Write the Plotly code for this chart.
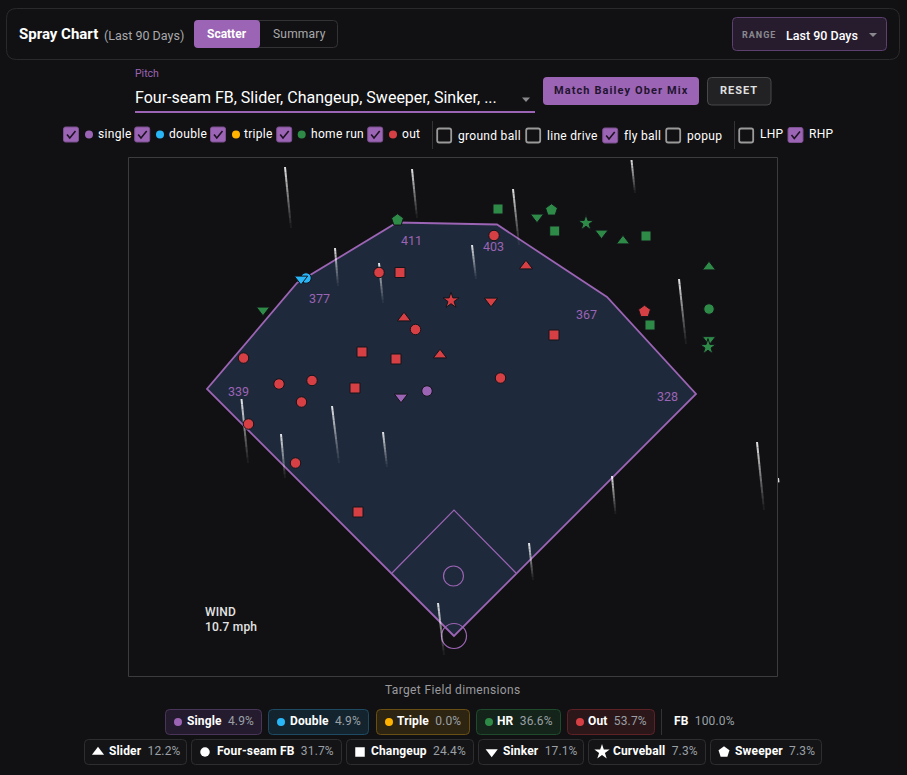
import plotly.graph_objects as go

# ---------- chart data (feet from home plate) ----------
OUT_X = [-75, -54, 40, 72, -3, 37, -50, -38.5, -92, -58, -14, -210.5, -175, -142, -99, -152.5, 46.5, 100, 190.5, -205.5, -158.5, -96]
OUT_Y = [363.5, 363.5, 400.5, 370, 335.5, 335, 318, 306.5, 284, 277, 281, 278, 252, 255.5, 248, 234, 258, 301, 324.5, 212, 173, 124]
OUT_P = ["FF", "CH", "FF", "SL", "CU", "SI", "SL", "FF", "CH", "CH", "SL", "FF", "FF", "FF", "CH", "FF", "FF", "CH", "SW", "FF", "FF", "CH"]
HR_X = [-56.5, -191, 44, 83, 97.5, 100.7, 132, 147.5, 169, 192, 255, 255, 255, 254, 196]
HR_Y = [416, 326, 427, 419, 426, 405, 413, 403, 395, 400, 369, 327, 296.5, 289, 311]
HR_P = ["SW", "SI", "CH", "SI", "SW", "CH", "CU", "SI", "SL", "CH", "SL", "FF", "SI", "CU", "CH"]
SINGLE_X = [-53, -27]
SINGLE_Y = [239, 245]
SINGLE_P = ["SI", "FF"]
DOUBLE_X = [-148, -153]
DOUBLE_Y = [358, 357]
DOUBLE_P = ["FF", "SI"]

WALL_X = [0, -247, -157, -57, 43, 153, 242, 0]
WALL_Y = [0, 247, 353, 413.5, 411.5, 339, 242, 0]
INFIELD_X = [-62, 0, 62]
INFIELD_Y = [63, 126, 63]
DIST_LABELS = ["339", "377", "411", "403", "367", "328"]
DIST_X = [-216, -135, -43, 39.5, 132, 213.5]
DIST_Y = [244.5, 338, 396, 390, 322, 239.5]

STREAK_X0 = [-169, -42, -119, -75, 18, 59, 177.5, 225, 303, 324, 158, 75, -16, -122, -71, -173, -212.5]
STREAK_Y0 = [469, 467, 388, 373, 391, 447, 476, 357, 194, 158, 160, 93, 33, 230, 204, 202, 237]
STREAK_X1 = [-163, -37, -116, -71, 22, 65, 181, 232, 310, 330, 161.5, 79, -10, -115, -67, -169, -206]
STREAK_Y1 = [408, 418, 350, 333, 357, 391, 443, 292, 126, 106, 122, 56, -19, 173, 169, 158, 173]

OUTCOME_NAMES = ["Single", "Double", "Triple", "HR", "Out"]
OUTCOME_PCT = ["4.9%", "4.9%", "0.0%", "36.6%", "53.7%"]
PITCH_NAMES = ["Slider", "Four-seam FB", "Changeup", "Sinker", "Curveball", "Sweeper"]
PITCH_PCT = ["12.2%", "31.7%", "24.4%", "17.1%", "7.3%", "7.3%"]
FB_PCT = "100.0%"
WIND_MPH = "10.7 mph"

# ---------- styling ----------
BG = "#111113"
PURPLE = "#9c64b4"
BLUE = "#29b6f6"
AMBER = "#ffb300"
GREEN = "#2e8b47"
RED = "#d64045"
FIELD = "#1e293b"
FONT = "Roboto"
SYMBOL = {"FF": "circle", "SL": "triangle-up", "CH": "square", "SI": "triangle-down", "CU": "star", "SW": "pentagon"}
SIZE = {"FF": 10.5, "SL": 11.5, "CH": 10, "SI": 11.5, "CU": 12, "SW": 12.5}
W, H = 907, 775
HOME_PX, HOME_PY = 454, 636   # where home plate sits on the page

shapes, annos = [], []


def X(px):
    return px - HOME_PX


def Y(py):
    return HOME_PY - py


def px_path(pts, close=True):
    return "M" + " L".join(f"{X(x)},{Y(y)}" for x, y in pts) + (" Z" if close else "")


def rrect(x0, y0, x1, y1, r=4, fill=None, line=None, lw=1):
    a, b, c, d = X(x0), X(x1), Y(y0), Y(y1)
    p = (f"M{a+r},{c} L{b-r},{c} Q{b},{c} {b},{c-r} L{b},{d+r} Q{b},{d} {b-r},{d} "
         f"L{a+r},{d} Q{a},{d} {a},{d+r} L{a},{c-r} Q{a},{c} {a+r},{c} Z")
    shapes.append(dict(type="path", xref="x", yref="y", path=p, fillcolor=fill or "rgba(0,0,0,0)",
                       line=dict(color=line or "rgba(0,0,0,0)", width=lw if line else 0), layer="below"))


def poly(pts, fill=None, line=None, lw=1, close=True):
    shapes.append(dict(type="path", xref="x", yref="y", path=px_path(pts, close),
                       fillcolor=fill or "rgba(0,0,0,0)",
                       line=dict(color=line or "rgba(0,0,0,0)", width=lw if line else 0), layer="below"))


def vline(sx, y0, y1, col="#333336", lw=1):
    shapes.append(dict(type="line", xref="x", yref="y", x0=X(sx), x1=X(sx), y0=Y(y0), y1=Y(y1),
                       line=dict(color=col, width=lw), layer="below"))


def text(x, y, s, size=12, color="#ffffff", anchor="left", weight=400, ls=0):
    if ls:
        s = f'<span style="letter-spacing:{ls}px">{s}</span>'
    annos.append(dict(xref="x", yref="y", x=X(x - (1 if anchor == "left" else 0)), y=Y(y), text=s, showarrow=False,
                      xanchor=anchor, yanchor="middle", align=anchor, borderpad=0,
                      font=dict(family=FONT, size=size, color=color, weight=weight)))


def checkbox(x, y, checked):
    if checked:
        rrect(x, y, x + 15, y + 15, 2, PURPLE, "#7b4f90", 1)
        poly([(x + 3.5, y + 7.5), (x + 6.3, y + 11), (x + 12, y + 4)], None, "#1d1324", 1.6, False)
    else:
        rrect(x + 0.5, y + 0.5, x + 14.5, y + 14.5, 2, None, "#9a9a9a", 1.8)


# ---------- field (feet, below the hit markers) ----------
def ft_path(xs, ys, close):
    return "M" + " L".join(f"{x},{y}" for x, y in zip(xs, ys)) + (" Z" if close else "")


shapes.append(dict(type="path", xref="x", yref="y", path=ft_path(WALL_X[:-1], WALL_Y[:-1], True), fillcolor=FIELD,
                   line=dict(color=PURPLE, width=1.8), layer="below"))
shapes.append(dict(type="path", xref="x", yref="y", path=ft_path(INFIELD_X, INFIELD_Y, False),
                   fillcolor="rgba(0,0,0,0)", line=dict(color=PURPLE, width=1.2), layer="below"))
shapes.append(dict(type="circle", xref="x", yref="y", x0=-10.5, x1=9.5, y0=50, y1=70,
                   line=dict(color=PURPLE, width=1.2), layer="below"))
shapes.append(dict(type="circle", xref="x", yref="y", x0=-12.5, x1=12.5, y0=-12.5, y1=12.5,
                   line=dict(color=PURPLE, width=1.2), layer="below"))

N_SEG = 12
FRAME_RIGHT = X(778.5)
for x0, y0, x1, y1 in zip(STREAK_X0, STREAK_Y0, STREAK_X1, STREAK_Y1):
    for i in range(N_SEG):
        a, b = i / N_SEG, (i + 1) / N_SEG
        xa, xb = x0 + (x1 - x0) * a, x0 + (x1 - x0) * b
        if xa >= FRAME_RIGHT:
            continue
        shapes.append(dict(type="line", xref="x", yref="y", layer="below",
                           x0=xa, x1=min(xb, FRAME_RIGHT),
                           y0=y0 + (y1 - y0) * a, y1=y0 + (y1 - y0) * b,
                           line=dict(color=f"rgba(255,255,255,{0.85 * (1 - a) ** 1.1:.3f})", width=2)))

fig = go.Figure()
for name, xs, ys, ps, col in [("single", SINGLE_X, SINGLE_Y, SINGLE_P, PURPLE),
                              ("double", DOUBLE_X, DOUBLE_Y, DOUBLE_P, BLUE),
                              ("home run", HR_X, HR_Y, HR_P, GREEN),
                              ("out", OUT_X, OUT_Y, OUT_P, RED)]:
    fig.add_trace(go.Scatter(x=xs, y=ys, mode="markers", name=name, showlegend=False,
                             marker=dict(color=col, symbol=[SYMBOL[p] for p in ps], size=[SIZE[p] for p in ps],
                                         opacity=1, line=dict(color="#14141a", width=1))))

for lab, x, y in zip(DIST_LABELS, DIST_X, DIST_Y):
    annos.append(dict(xref="x", yref="y", x=x, y=y, text=lab, showarrow=False, xanchor="center", yanchor="middle",
                      font=dict(family=FONT, size=12.5, color=PURPLE)))

# ---------- page chrome ----------
rrect(6.5, 8.5, 899.5, 59.5, 10, None, "#2a2a2c", 1)
text(19, 34, "<b>Spray Chart</b>", 15)
text(103.5, 35, "(Last 90 Days)", 12.5, "#a9a9ad")
rrect(194.5, 20.5, 337.5, 47.5, 4, None, "#333336", 1)
rrect(194, 20, 260, 48, 4, PURPLE)
text(227, 34, "<b>Scatter</b>", 12, "#ffffff", "center")
text(299, 34, "Summary", 12, "#a9a9ad", "center", 400, 0.2)
rrect(732.5, 17.5, 886.5, 50.5, 4, "#261c2e", "#5d3f70", 1)
text(742, 35, "RANGE", 9, "#8a8a8e", "left", 700, 1)
text(786, 35, "Last 90 Days", 12.5, "#ffffff", "left", 500)
poly([(869, 33), (877, 33), (873, 37)], "#8a8a8e")

text(135, 73.5, "Pitch", 10.5, PURPLE)
text(135, 97, "Four-seam FB, Slider, Changeup, Sweeper, Sinker, ...", 16, "#ffffff")
shapes.append(dict(type="line", xref="x", yref="y", x0=X(135), x1=X(535), y0=Y(112), y1=Y(112),
                   line=dict(color=PURPLE, width=2), layer="below"))
poly([(522, 97.5), (530, 97.5), (526, 102)], "#8a8a8e")
rrect(543, 77, 699, 105, 4, PURPLE)
text(621, 90.5, "Match Bailey Ober Mix", 11, "#221430", "center", 700, 1.1)
rrect(707.5, 77.5, 771, 105, 4, "#222224", "#48484a", 1)
text(739, 90.5, "RESET", 11, "#e0e0e0", "center", 700, 1)

# outcome filters
icon_x, icon_y, icon_sym, icon_col, icon_size = [], [], [], [], []
for bx, dx, tx, lab, col in [(63.5, 89, 97.5, "single", PURPLE), (134.7, 160, 168.7, "double", BLUE),
                             (210.5, 236, 244, "triple", AMBER), (276.7, 301.7, 310.5, "home run", GREEN),
                             (367.7, 393, 401.5, "out", RED)]:
    checkbox(bx, 127, True)
    text(tx, 134, lab, 12, ls=0.3)
    icon_x.append(X(dx)); icon_y.append(Y(134.5)); icon_sym.append("circle"); icon_col.append(col); icon_size.append(8)
vline(432.5, 121, 149)
vline(734.5, 121, 149)
for bx, checked, tx, lab in [(436.7, False, 458, "ground ball"), (525.7, False, 547, "line drive"),
                             (602.7, True, 623.7, "fly ball"), (665.7, False, 686.7, "popup")]:
    checkbox(bx, 128, checked)
    text(tx, 136, lab, 12, ls=0.3)
checkbox(738.7, 128, False)
text(760.3, 133.5, "LHP", 12, ls=0.3)
checkbox(788, 127.5, True)
text(809, 133.5, "RHP", 12, ls=0.3)

# plot frame + footer
shapes.append(dict(type="rect", xref="x", yref="y", x0=X(128.5), x1=X(777.5), y0=Y(157.5), y1=Y(676.5),
                   line=dict(color="#3c3c3e", width=1), layer="below"))
text(204.5, 612, "WIND", 12, "#e4e4e4", "left", 500, 0.2)
text(204.5, 627, WIND_MPH, 12, "#e4e4e4", "left", 500, 0.2)
text(453, 690, "Target Field dimensions", 12, "#9a9a9e", "center", 400, 0.35)

chip_geom = [(165.5, 261.5, 178, 186.7, "#241b2e", "#4a355a", PURPLE), (268.5, 368.5, 281, 289.7, "#14242f", "#1f4a63", BLUE),
             (376.5, 469.5, 389, 397, "#2e2412", "#6a4f14", AMBER), (476.5, 560.5, 489, 497, "#15241a", "#1f4a2c", GREEN),
             (567.5, 654.5, 580, 588, "#2b1719", "#5e2226", RED)]
for (x0, x1, dx, tx, fill, line, col), nm, pct in zip(chip_geom, OUTCOME_NAMES, OUTCOME_PCT):
    rrect(x0, 709.5, x1, 734.5, 4, fill, line, 1)
    text(tx, 721, f'<b>{nm}</b> <span style="color:#9aa0a6">&nbsp;{pct}</span>', 12, ls=0.15)
    icon_x.append(X(dx)); icon_y.append(Y(722)); icon_sym.append("circle"); icon_col.append(col); icon_size.append(8)
vline(661.5, 709, 735)
text(674.3, 721, f'<b>FB</b> <span style="color:#9aa0a6">&nbsp;{FB_PCT}</span>', 12, ls=0.15)

pitch_geom = [(84.5, 186.5, 98, 109, "triangle-up"), (191.5, 341.5, 205, 216.7, "circle"), (346.5, 473.5, 360, 371, "square"),
              (478.5, 583.5, 491.7, 502.7, "triangle-down"), (588.5, 705.5, 602, 613.3, "star"), (710.5, 821.5, 724, 735, "pentagon")]
for (x0, x1, ix, tx, sym), nm, pct in zip(pitch_geom, PITCH_NAMES, PITCH_PCT):
    rrect(x0, 739.5, x1, 764.5, 4, "#141416", "#2e2e30", 1)
    text(tx, 751, f'<b>{nm}</b> <span style="color:#9aa0a6">&nbsp;{pct}</span>', 12, ls=0.15)
    icon_x.append(X(ix)); icon_y.append(Y(752)); icon_sym.append(sym); icon_col.append("#ffffff")
    icon_size.append({"triangle-up": 10.5, "triangle-down": 10.5, "circle": 9.5, "square": 9.5, "star": 11.5, "pentagon": 11.5}[sym])

fig.add_trace(go.Scatter(x=icon_x, y=icon_y, mode="markers", showlegend=False, hoverinfo="skip", cliponaxis=False,
                         marker=dict(color=icon_col, symbol=icon_sym, size=icon_size, opacity=1, line=dict(width=0))))

fig.update_layout(
    width=W, height=H, margin=dict(l=0, r=0, t=0, b=0, autoexpand=False), paper_bgcolor=BG, plot_bgcolor=BG,
    font=dict(family=FONT), showlegend=False, shapes=shapes, annotations=annos, hovermode="closest",
    xaxis=dict(domain=[0, 1], range=[X(0), X(W)], visible=False, fixedrange=True),
    yaxis=dict(domain=[0, 1], range=[Y(H), Y(0)], visible=False, fixedrange=True),
)
fig.write_html("out.html", config=dict(displayModeBar=False),
               post_script="document.body.style.margin='0';document.body.style.background='#111113';"
                           "document.documentElement.style.overflow='hidden';")
